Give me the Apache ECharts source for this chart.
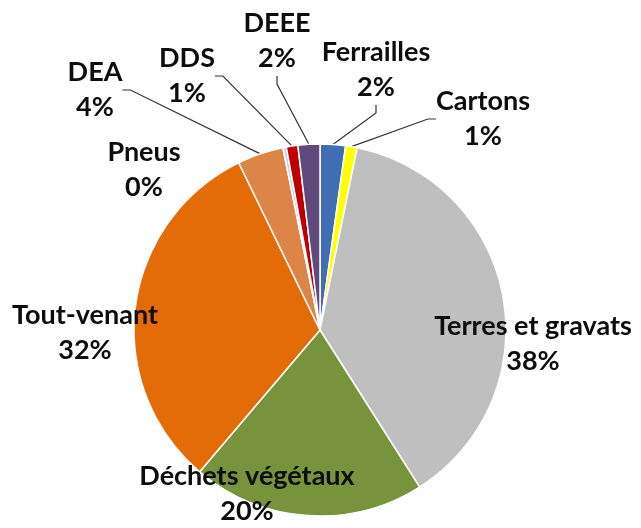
<!DOCTYPE html>
<html>
<head>
<meta charset="utf-8">
<script src="https://cdn.jsdelivr.net/npm/echarts@6/dist/echarts.min.js"></script>
<style>
  html, body { margin: 0; padding: 0; background: #fff; }
  #chart { width: 641px; height: 528px; }
</style>
</head>
<body>
<div id="chart"></div>
<script>
// catégories, dans l'ordre horaire depuis midi
const categories = ['Ferrailles', 'Cartons', 'Terres et gravats', 'Déchets végétaux',
    'Tout-venant', 'DEA', 'Pneus', 'DDS', 'DEEE'];
// parts en %
const values = [2.2, 1.0, 37.8, 20.2, 31.6, 4.0, 0.3, 1.0, 1.9];
const colors = ['#3f6eb3', '#ffff00', '#bfbfbf', '#77933c',
    '#e36c09', '#dd8547', '#c6d4ea', '#c00000', '#5f4a7b'];
// étiquettes avec trait de rappel
const withLine = [true, true, false, false, false, true, false, true, true];

// position des étiquettes (centre du bloc de texte)
const labelPos = [
    [376, 70], [483, 119], [533, 344], [247, 494],
    [85, 333], [95, 90], [144, 170], [187, 76], [277, 41]
];

const chart = echarts.init(document.getElementById('chart'));

const seriesData = categories.map((name, i) => ({
    name: name,
    value: values[i],
    itemStyle: { color: colors[i] },
    labelLine: { show: withLine[i] }
}));

chart.setOption({
    animation: false,
    series: [{
        type: 'pie',
        center: [320, 330],
        radius: 186,
        startAngle: 90,
        clockwise: true,
        percentPrecision: 0,
        avoidLabelOverlap: false,
        itemStyle: { borderColor: '#fff', borderWidth: 1.5 },
        label: {
            show: true,
            position: 'outside',
            formatter: '{b}\n{d}%',
            color: '#0d0d0d',
            fontFamily: 'Lato',
            fontWeight: 'bold',
            fontSize: 27,
            lineHeight: 35,
            align: 'center'
        },
        labelLine: {
            show: true,
            length: 10,
            length2: 8,
            smooth: false,
            lineStyle: { color: '#333', width: 1.2 }
        },
        labelLayout: function (params) {
            const p = labelPos[params.dataIndex];
            return { x: p[0], y: p[1], align: 'center', verticalAlign: 'middle' };
        },
        data: seriesData
    }]
});
</script>
</body>
</html>
